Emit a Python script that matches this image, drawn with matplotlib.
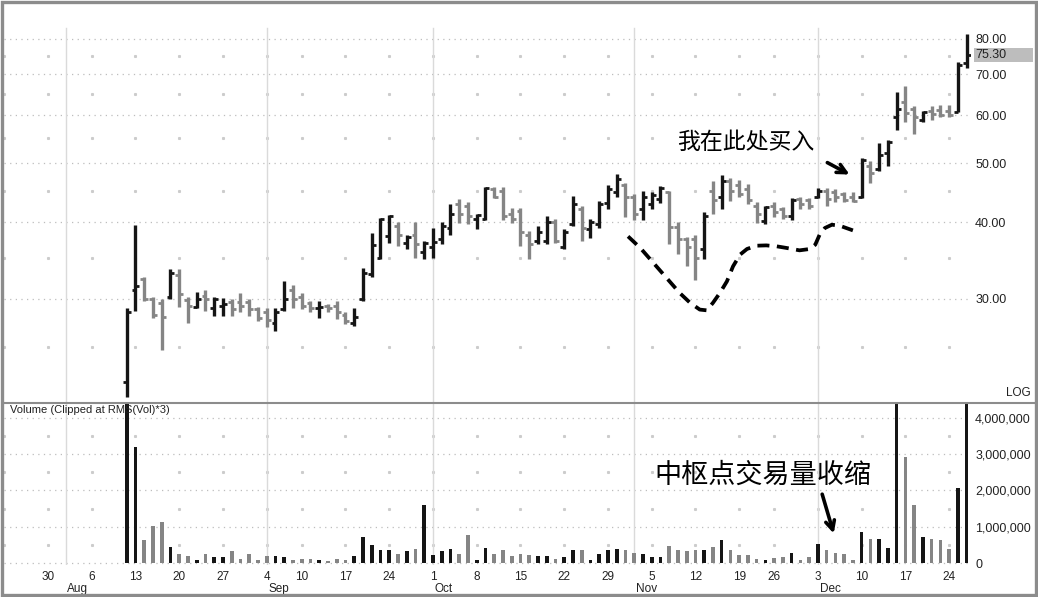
import numpy as np
import pandas as pd
import matplotlib
matplotlib.use("Agg")
import matplotlib.pyplot as plt
from matplotlib.transforms import blended_transform_factory
from matplotlib.patches import Rectangle
from matplotlib.lines import Line2D
from matplotlib.ticker import NullLocator

plt.rcParams['font.family'] = ['Liberation Sans', 'DejaVu Sans']

# trading days Jul 30 - Dec 27 2007 (Labor Day, Thanksgiving, Christmas closed)
holidays = pd.to_datetime(["2007-09-03", "2007-11-22", "2007-12-25"])
days = pd.bdate_range("2007-07-30", "2007-12-27")
days = days[~days.isin(holidays)]

first_day = "2007-08-10"

opens = [21.9, 31.0, 32.3, 29.9, 29.5, 30.2, 32.8, 29.8, 29.1, 30.3,
         29.0, 29.2, 29.6, 29.6, 29.6, 28.8, 28.5, 27.4, 28.8, 31.0,
         30.2, 29.5, 28.9, 29.2, 29.2, 28.2, 27.4, 29.9, 32.9, 35.0,
         38.0, 39.4, 37.0, 38.2, 35.8, 36.4, 37.6, 39.1, 42.9, 42.6,
         40.5, 40.5, 45.4, 45.0, 41.3, 41.8, 38.2, 37.3, 37.3, 40.0,
         36.4, 39.7, 42.1, 39.0, 39.7, 43.0, 44.8, 46.0, 44.0, 42.1,
         42.9, 43.7, 44.8, 39.3, 37.6, 37.6, 36.2, 45.0, 44.0, 46.8,
         46.0, 45.4, 42.6, 40.2, 42.6, 42.1, 41.0, 43.7, 43.5, 44.0,
         45.0, 44.8, 44.5, 44.0, 44.0, 49.5, 49.0, 52.0, 59.6, 63.0,
         61.3, 58.8, 60.9, 61.2, 61.0, 60.8, 73.0]
highs = [29.0, 39.6, 32.6, 30.2, 30.0, 33.5, 33.5, 30.2, 30.8, 31.0,
         30.2, 30.1, 29.9, 30.7, 29.9, 29.1, 29.0, 28.9, 32.1, 31.6,
         30.7, 29.7, 29.7, 29.4, 29.7, 28.5, 29.0, 33.7, 38.4, 40.7,
         41.2, 40.0, 38.2, 40.0, 37.3, 39.1, 40.0, 42.9, 43.7, 43.2,
         41.3, 45.7, 45.8, 45.7, 42.3, 42.3, 38.8, 39.4, 41.0, 40.5,
         39.0, 44.2, 42.6, 40.5, 43.4, 46.0, 48.1, 46.4, 44.5, 45.0,
         44.8, 45.9, 45.0, 40.0, 37.9, 38.1, 41.6, 46.8, 47.9, 47.4,
         47.0, 46.2, 43.2, 42.6, 43.2, 42.4, 43.9, 44.0, 43.9, 45.6,
         45.6, 45.4, 44.8, 44.8, 51.0, 50.4, 54.1, 54.7, 65.6, 67.0,
         62.0, 61.0, 62.2, 62.4, 62.4, 73.2, 81.5]
lows = [20.7, 28.6, 29.7, 27.9, 24.7, 29.9, 29.1, 27.4, 28.9, 28.6,
        28.1, 28.1, 28.1, 28.5, 28.1, 27.6, 27.0, 26.5, 28.6, 29.0,
        28.8, 28.5, 27.9, 28.5, 27.8, 27.3, 27.1, 29.7, 32.6, 34.9,
        37.0, 36.6, 36.2, 35.0, 34.8, 35.0, 36.9, 38.2, 39.9, 39.7,
        39.0, 40.3, 43.9, 40.3, 39.9, 36.6, 34.8, 36.9, 36.9, 37.0,
        36.2, 39.4, 37.3, 37.7, 39.2, 42.1, 44.0, 40.8, 40.3, 40.3,
        42.1, 43.0, 36.9, 35.5, 33.9, 32.2, 34.8, 41.3, 42.1, 43.4,
        44.0, 42.9, 39.9, 39.7, 40.8, 40.6, 40.3, 42.1, 42.1, 43.9,
        42.6, 43.2, 43.2, 43.2, 43.9, 46.5, 48.5, 49.5, 56.8, 58.4,
        55.8, 58.4, 58.8, 59.6, 59.6, 60.6, 71.7]
closes = [28.5, 31.5, 30.0, 28.2, 28.0, 33.1, 30.5, 29.2, 30.0, 29.9,
          30.0, 29.4, 28.8, 29.2, 28.8, 27.9, 27.7, 28.5, 29.9, 29.9,
          29.2, 29.0, 29.1, 29.0, 28.5, 27.6, 28.0, 33.1, 36.7, 40.5,
          41.0, 38.2, 37.9, 36.9, 37.0, 37.2, 39.4, 41.3, 41.3, 41.0,
          41.1, 45.6, 44.0, 41.0, 40.5, 38.6, 36.9, 38.6, 40.0, 37.3,
          38.6, 42.9, 39.2, 40.0, 42.9, 45.4, 47.2, 44.0, 41.3, 44.0,
          44.3, 45.6, 39.3, 37.6, 36.5, 35.0, 41.0, 43.5, 46.8, 45.0,
          44.6, 43.5, 41.3, 42.4, 41.6, 41.0, 43.5, 42.9, 42.6, 45.0,
          43.7, 44.0, 43.5, 43.4, 50.7, 48.2, 51.6, 54.3, 61.3, 60.5,
          59.6, 60.8, 60.3, 60.1, 60.0, 72.6, 75.3]
# volume in millions of shares (first and two December bars are clipped)
volume_m = [9.0, 3.2, 0.63, 1.02, 1.13, 0.44, 0.26, 0.18, 0.07, 0.25,
            0.17, 0.17, 0.32, 0.12, 0.26, 0.07, 0.18, 0.19, 0.17, 0.09,
            0.12, 0.10, 0.09, 0.06, 0.12, 0.09, 0.18, 0.72, 0.51, 0.35,
            0.35, 0.26, 0.33, 0.38, 1.61, 0.23, 0.32, 0.38, 0.24, 0.76,
            0.08, 0.40, 0.26, 0.35, 0.18, 0.26, 0.23, 0.19, 0.19, 0.12,
            0.17, 0.35, 0.35, 0.07, 0.24, 0.35, 0.38, 0.35, 0.28, 0.24,
            0.17, 0.17, 0.46, 0.35, 0.32, 0.35, 0.35, 0.44, 0.63, 0.37,
            0.23, 0.23, 0.12, 0.09, 0.14, 0.17, 0.28, 0.09, 0.17, 0.53,
            0.35, 0.28, 0.26, 0.07, 0.86, 0.67, 0.67, 0.40, 6.5, 2.92,
            1.61, 0.72, 0.65, 0.63, 0.38, 2.07, 5.5]

week_days = ["2007-07-30", "2007-08-06", "2007-08-13", "2007-08-20", "2007-08-27",
             "2007-09-04", "2007-09-10", "2007-09-17", "2007-09-24", "2007-10-01",
             "2007-10-08", "2007-10-15", "2007-10-22", "2007-10-29", "2007-11-05",
             "2007-11-12", "2007-11-19", "2007-11-26", "2007-12-03", "2007-12-10",
             "2007-12-17", "2007-12-24"]
week_labels = ["30", "6", "13", "20", "27", "4", "10", "17", "24", "1", "8",
               "15", "22", "29", "5", "12", "19", "26", "3", "10", "17", "24"]
month_days = ["2007-08-01", "2007-09-04", "2007-10-01", "2007-11-01", "2007-12-03"]
month_labels = ["Aug", "Sep", "Oct", "Nov", "Dec"]
price_ticks = [30, 40, 50, 60, 70, 80]
price_minor = [25, 35, 45, 55, 65, 75]
vol_ticks = [0, 1e6, 2e6, 3e6, 4e6]
vol_minor = [0.5e6, 1.5e6, 2.5e6, 3.5e6]

# hand-drawn dashed outline under the base (trading-day index, price)
curve_x = [66.3, 67.7, 69.2, 70.7, 72.2, 73.4, 74.5, 75.3, 76.0, 76.8, 77.6, 78.3, 79.1,
           79.9, 81.0, 82.1, 83.3, 84.4, 85.9, 87.1, 87.7, 88.2, 88.8, 89.6, 90.5, 92.0]
curve_y = [37.95, 36.33, 34.33, 32.44, 30.65, 29.52, 28.78, 28.70, 29.52, 30.65, 32.02,
           33.89, 35.42, 36.19, 36.64, 36.68, 36.55, 36.33, 36.0, 36.19, 36.78, 38.2,
           39.17, 39.66, 39.51, 38.82]

# ---- positions on a trading-day axis
pos = {d: i for i, d in enumerate(days)}
x0 = pos[pd.Timestamp(first_day)]
x = np.arange(x0, x0 + len(closes))
o, h, l, c = map(np.array, (opens, highs, lows, closes))
vol = np.array(volume_m) * 1e6
BLACK, GRAY = "#151515", "#858585"
cols = np.where(c >= o, BLACK, GRAY)
wk = np.array([pos[pd.Timestamp(d)] for d in week_days])
mo = np.array([pos[pd.Timestamp(d)] for d in month_days])

W, H = 1038, 597
fig = plt.figure(figsize=(W / 100, H / 100), dpi=100)
fig.patch.set_facecolor("white")

axp = fig.add_axes([4 / W, 1 - 402 / H, 967 / W, 398 / H])
axv = fig.add_axes([4 / W, 1 - 565 / H, 967 / W, 162 / H])
xlim = (-5.03, 105.5)

# ---- price panel (log scale, OHLC bars)
axp.set_yscale("log")
axp.set_ylim(20.3, 91.3)
axp.set_xlim(*xlim)
for lev in price_ticks:
    axp.axhline(lev, color="#bdbdbd", lw=0.9, ls=(0, (1, 3.5)), zorder=0)
gx, gy = np.meshgrid(np.append(wk, wk[0] - 5), price_minor)
axp.plot(gx.ravel(), gy.ravel(), ls="none", marker="s", ms=1.2, color="#cccccc", zorder=0)
for m in mo:
    axp.axvline(m, ymax=0.94, color="#dadada", lw=1, zorder=0)

axp.vlines(x, l, h, colors=cols, lw=2.4, zorder=3)
axp.hlines(o, x - 0.45, x, colors=cols, lw=2.0, zorder=3)
axp.hlines(c, x, x + 0.45, colors=cols, lw=2.0, zorder=3)

axp.yaxis.tick_right()
axp.yaxis.set_minor_locator(NullLocator())
axp.set_yticks(price_ticks)
axp.set_yticklabels([f"{v:.2f}" for v in price_ticks])
axp.tick_params(axis="y", length=0, pad=3, labelsize=9, labelcolor="#222222")
axp.set_xticks([])
for s in axp.spines.values():
    s.set_visible(False)

# last price tag
tb = blended_transform_factory(axp.transAxes, axp.transData)
axp.add_patch(Rectangle((1.003, c[-1] / 1.026), 0.061, c[-1] * (1.026 - 1 / 1.026),
                        transform=tb, facecolor="#bdbdbd", edgecolor="none", clip_on=False))
axp.text(1.005, c[-1], f"{c[-1]:.2f}", transform=tb, va="center", ha="left",
         fontsize=9, color="#222222", clip_on=False)
fig.text(1031 / W, 1 - 393 / H, "LOG", ha="right", va="center", fontsize=8.5, color="#222222")

axp.plot(curve_x, curve_y, color="black", lw=2.7, ls=(0, (3.2, 2.0)),
         solid_joinstyle="round", zorder=4)

cjk = ["Noto Sans CJK SC", "DejaVu Sans"]
axp.annotate("", xy=(91.9, 47.7), xytext=(88.8, 50.4),
             arrowprops=dict(arrowstyle="->", lw=2.6, color="black", mutation_scale=16))
axp.text(79.8, 54.1, "我在此处买入", family=cjk, fontsize=16.5, ha="center", va="center")

# ---- volume panel
axv.set_xlim(*xlim)
axv.set_ylim(-0.055e6, 4.41e6)
for lev in vol_ticks:
    axv.axhline(lev, color="#bdbdbd", lw=0.9, ls=(0, (1, 3.5)), zorder=0)
gx, gy = np.meshgrid(np.append(wk, wk[0] - 5), vol_minor)
axv.plot(gx.ravel(), gy.ravel(), ls="none", marker="s", ms=1.2, color="#cccccc", zorder=0)
for m in mo:
    axv.axvline(m, color="#dadada", lw=1, zorder=0)
axv.bar(x, vol, width=0.42, color=cols, zorder=3)

axv.yaxis.tick_right()
axv.set_yticks(vol_ticks)
axv.set_yticklabels([f"{int(v):,}" for v in vol_ticks])
axv.tick_params(axis="y", length=0, pad=3, labelsize=9, labelcolor="#222222")
axv.set_xticks(wk)
axv.set_xticklabels(week_labels)
axv.tick_params(axis="x", length=0, pad=4, labelsize=8.5, labelcolor="#222222")
tm = blended_transform_factory(axv.transData, axv.transAxes)
for m, lab in zip(mo, month_labels):
    axv.text(m + 0.2, -0.15, lab, transform=tm, ha="left", va="center",
             fontsize=8.5, color="#222222", clip_on=False)
for s in axv.spines.values():
    s.set_visible(False)

axv.text(0.006, 0.955, "Volume (Clipped at RMS(Vol)*3)", transform=axv.transAxes,
         ha="left", va="center", fontsize=8, color="#222222")

axv.annotate("", xy=(89.9, 0.74e6), xytext=(88.4, 1.97e6),
             arrowprops=dict(arrowstyle="->", lw=2.6, color="black", mutation_scale=16))
axv.text(81.7, 2.43e6, "中枢点交易量收缩", family=cjk, fontsize=19.5, ha="center", va="center")

# panel separator and outer frame
fig.add_artist(Line2D([4 / W, 1 - 3 / W], [1 - 402.5 / H] * 2, transform=fig.transFigure,
                      color="#8c8c8c", lw=1.5))
fig.add_artist(Rectangle((1.6 / W, 1.6 / H), 1 - 3.2 / W, 1 - 3.2 / H, transform=fig.transFigure,
                         fill=False, edgecolor="#8c8c8c", lw=2.4))

fig.savefig("out.png", dpi=100, facecolor="white")
